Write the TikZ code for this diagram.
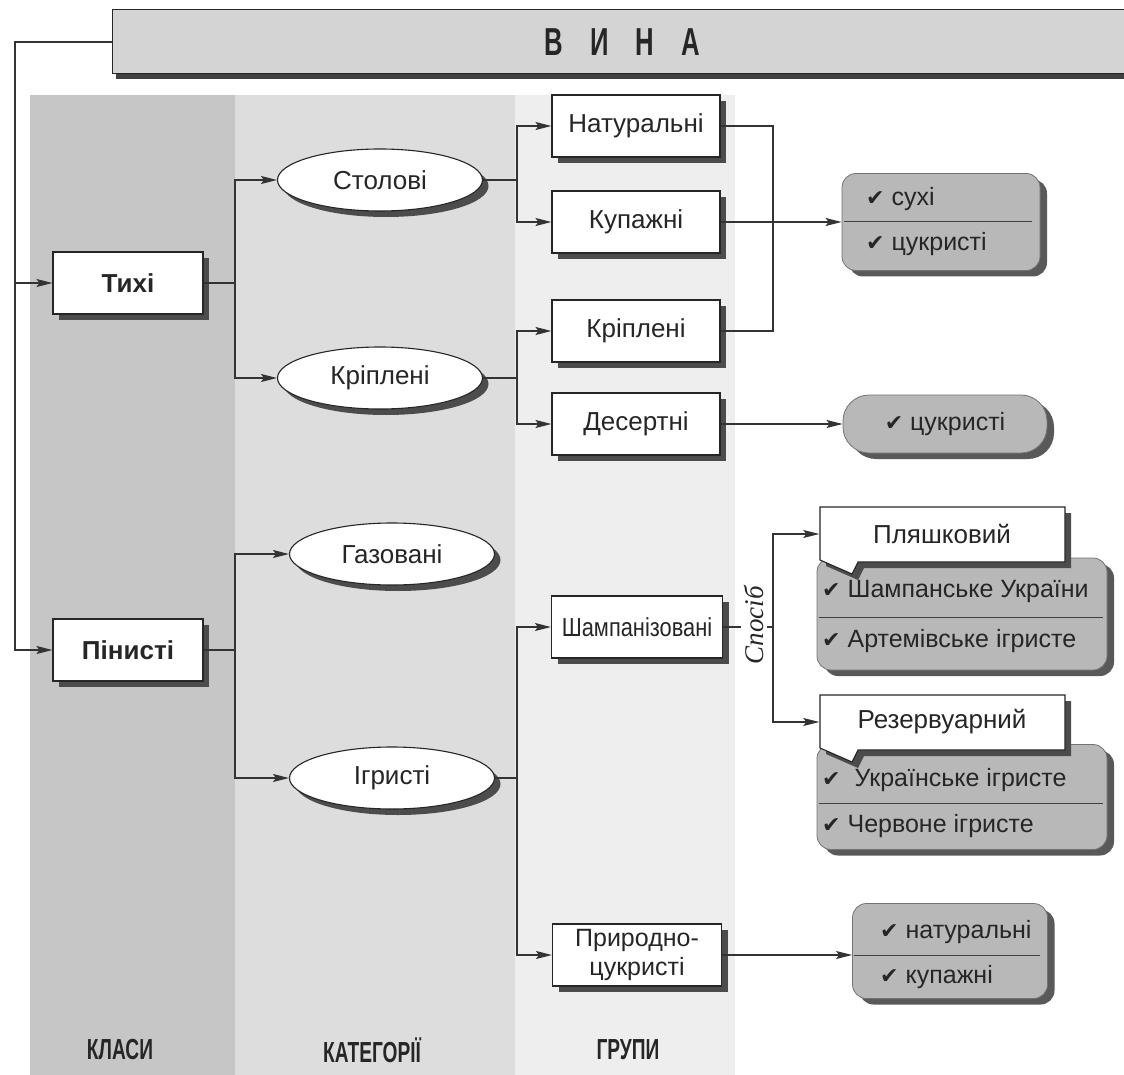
\documentclass[tikz,border=0pt]{standalone}
\usepackage{fontspec}
\setmainfont{Liberation Sans}
\newfontfamily\condfont[FakeStretch=0.66]{Liberation Sans}
\newfontfamily\narrowfont[FakeStretch=0.84]{Liberation Sans}
\newfontfamily\spfont{Liberation Serif}
\newfontfamily\dvfont{DejaVu Sans}
\usetikzlibrary{shapes.geometric,arrows.meta,shadows}
\newcommand\ck{{\dvfont\fontsize{22}{26}\selectfont ✔}}
\definecolor{colA}{RGB}{198,198,198}
\definecolor{colB}{RGB}{221,221,221}
\definecolor{colC}{RGB}{238,238,238}
\definecolor{hdrfill}{RGB}{212,212,212}
\definecolor{resfill}{RGB}{184,184,184}
\begin{document}
\begin{tikzpicture}[x=1pt,y=-1pt,
  every node/.style={font=\fontsize{26}{29}\selectfont, text=black!85},
  conn/.style={draw=black!80, line width=1.3pt},
  arr/.style={conn, -{Stealth[length=16pt,width=8pt,inset=3pt]}},
  boxshadow/.style={drop shadow={shadow xshift=6pt,shadow yshift=-6pt,fill=black!70,opacity=1}},
  grpbox/.style={draw=black!85, line width=1.1pt, fill=white, minimum width=168pt, minimum height=62pt, inner sep=0pt, boxshadow},
  clsbox/.style={grpbox, minimum width=150pt, font=\fontsize{26}{29}\selectfont\bfseries},
  oval/.style={ellipse, draw=black!85, line width=1.1pt, fill=white, minimum width=205pt, minimum height=62pt, inner sep=0pt, boxshadow},
  resbox/.style={rounded corners=14pt, draw=black!55, line width=0.8pt, fill=resfill, inner sep=0pt,
     drop shadow={shadow xshift=7pt,shadow yshift=-6pt,fill=black!65,opacity=1}},
  tab/.style={draw=black!85, line width=1.1pt, fill=white, boxshadow},
  rowtxt/.style={anchor=west, inner sep=0pt, font=\fontsize{25}{28}\selectfont},
  divider/.style={draw=black!75, line width=1pt},
  colhead/.style={font=\condfont\bfseries\fontsize{29}{31}\selectfont}
]
\useasboundingbox (0,0) rectangle (1124,1075);
\fill[white] (0,0) rectangle (1124,1075);
% background columns
\fill[colA] (30,95) rectangle (235,1075);
\fill[colB] (235,95) rectangle (515,1075);
\fill[colC] (515,95) rectangle (735,1075);

% header
\node[draw=black!85, line width=1pt, fill=hdrfill, minimum width=1020pt, minimum height=64pt, inner sep=0pt,
      anchor=west, drop shadow={shadow xshift=3pt,shadow yshift=-5pt,fill=black!75,opacity=1},
      font=\condfont\bfseries\fontsize{39}{42}\selectfont] (vyna) at (112,42)
      {В\hspace{27pt}И\hspace{27pt}Н\hspace{27pt}А};

% classes
\node[clsbox] (tyhi) at (128,283) {Тихі};
\node[clsbox] (pin) at (128,650) {Пінисті};

% categories
\node[oval] (stol) at (380,180) {Столові};
\node[oval] (krip) at (380,378) {Кріплені};
\node[oval] (gaz) at (392,554) {Газовані};
\node[oval] (igr) at (392,778) {Ігристі};

% groups
\node[grpbox] (nat) at (636,126) {Натуральні};
\node[grpbox] (kup) at (636,222) {Купажні};
\node[grpbox] (krg) at (636,331) {Кріплені};
\node[grpbox] (des) at (636,424) {Десертні};
\node[grpbox, minimum width=171pt, font=\narrowfont\fontsize{26}{29}\selectfont] (sham) at (637,627) {Шампанізовані};
\node[grpbox, minimum width=169pt, align=center, font=\fontsize{25}{29}\selectfont] (pryr) at (637,955) {Природно-\\цукристі};

% result boxes
\node[resbox, minimum width=198pt, minimum height=97pt] (res1) at (941,222) {};
\draw[divider] (844,222) -- (1032,222);
\node[rowtxt] (r1a) at (866,199) {\ck\ сухі};
\node[rowtxt] (r1b) at (866,244) {\ck\ цукристі};

\node[resbox, rounded corners=26pt, minimum width=204pt, minimum height=58pt, font=\fontsize{25}{28}\selectfont] (res2) at (945,424) {\ck\ цукристі};

\node[resbox, minimum width=290pt, minimum height=112pt] (res3) at (962,614) {};
\draw[divider] (819,617) -- (1103,617);
\node[rowtxt] (r3a) at (822,591) {\ck\ Шампанське України};
\node[rowtxt] (r3b) at (822,641) {\ck\ Артемівське ігристе};

\node[resbox, minimum width=290pt, minimum height=105pt] (res4) at (962,797) {};
\draw[divider] (819,803) -- (1103,803);
\node[rowtxt] (r4a) at (822,780) {\ck\ \ Українське ігристе};
\node[rowtxt] (r4b) at (822,826) {\ck\ Червоне ігристе};

\node[resbox, minimum width=195pt, minimum height=95pt] (res5) at (950,951) {};
\draw[divider] (854,955) -- (1040,955);
\node[rowtxt] (r5a) at (880,932) {\ck\ натуральні};
\node[rowtxt] (r5b) at (880,977) {\ck\ купажні};

% method tabs
\draw[tab] (820,507) -- (1065,507) -- (1065,562) -- (858,562) -- (852,574) -- (820,560) -- cycle;
\node[minimum width=245pt, minimum height=55pt, inner sep=0pt] (plyash) at (942,534) {Пляшковий};
\draw[tab] (820,695) -- (1065,695) -- (1065,750) -- (858,750) -- (852,762) -- (820,748) -- cycle;
\node[minimum width=245pt, minimum height=55pt, inner sep=0pt] (rezerv) at (942,722) {Резервуарний};

\node[font=\spfont\itshape\fontsize{27}{29}\selectfont, rotate=90, inner sep=3pt] (sposib) at (754,625) {Спосіб};

% connectors
\coordinate (lt) at (15,42);
\draw[arr] (vyna.west) -- (lt) |- (pin.west);
\draw[arr] (lt |- tyhi.west) -- (tyhi.west);

\coordinate (t1) at (235,283);
\draw[arr] (tyhi.east) -- (t1) |- (stol.west);
\draw[arr] (t1) |- (krip.west);

\coordinate (p1) at (235,650);
\draw[arr] (pin.east) -- (p1) |- (gaz.west);
\draw[arr] (p1) |- (igr.west);

\coordinate (s1) at (517,180);
\draw[arr] (stol.east) -- (s1) |- (nat.west);
\draw[arr] (s1) |- (kup.west);

\coordinate (k1) at (517,378);
\draw[arr] (krip.east) -- (k1) |- (krg.west);
\draw[arr] (k1) |- (des.west);

\coordinate (i1) at (517,778);
\draw[arr] (igr.east) -- (i1) |- (sham.west);
\draw[arr] (i1) |- (pryr.west);

\coordinate (rj) at (773,222);
\draw[conn] (nat.east) -| (rj) |- (krg.east);
\draw[arr] (kup.east) -- (res1.west);
\draw[arr] (des.east) -- (res2.west);
\draw[arr] (pryr.east) -- (pryr.east -| res5.west);

\coordinate (sp) at (773,627);
\draw[conn] (sham.east) -- (sham.east -| sposib.north);
\draw[conn] (sham.east -| sposib.south) -- (sp);
\draw[arr] (sp) |- (plyash.west);
\draw[arr] (sp) |- (rezerv.west);

% column headings
\node[colhead] (hk) at (120,1050) {КЛАСИ};
\node[colhead] (hc) at (372,1050) {КАТЕГОРІЇ};
\node[colhead] (hg) at (628,1050) {ГРУПИ};
\end{tikzpicture}
\end{document}
